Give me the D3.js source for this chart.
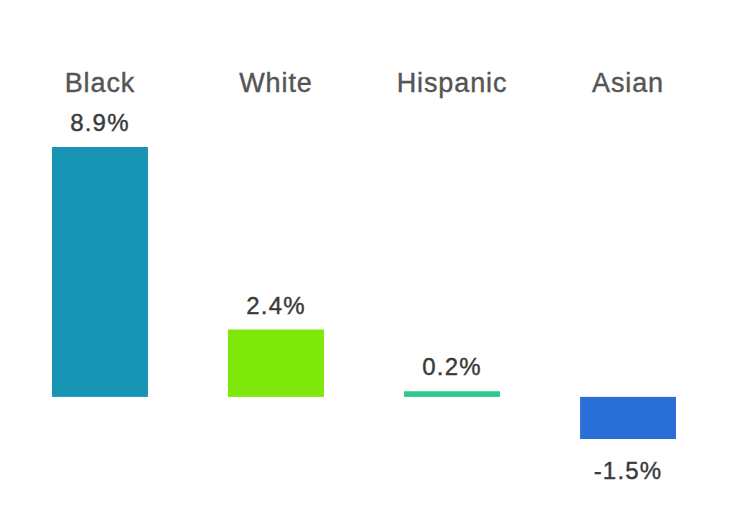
<!DOCTYPE html>
<html>
<head>
<meta charset="utf-8">
<script src="https://cdn.jsdelivr.net/npm/d3@7"></script>
<style>
  html, body { margin: 0; padding: 0; background: #ffffff; }
  svg { display: block; }
</style>
</head>
<body>
<svg id="chart" width="736" height="529"></svg>
<script>
// Change by group, in percent
const categories = ["Black", "White", "Hispanic", "Asian"];
const values = [8.9, 2.4, 0.2, -1.5];
const valueLabels = ["8.9%", "2.4%", "0.2%", "-1.5%"];
const colors = ["#1793b3", "#7ee80a", "#2ec98b", "#2a6fd8"];

const svg = d3.select("#chart");

const x = d3.scaleBand()
  .domain(categories)
  .range([52, 676])
  .paddingInner(0.455)
  .paddingOuter(0);

const y = d3.scaleLinear()
  .domain([-1.5, 8.9])
  .range([439, 147]);

const rows = categories.map((c, i) => ({ c, v: values[i], label: valueLabels[i], color: colors[i] }));

// Bars from the zero line
svg.append("g").selectAll("rect")
  .data(rows)
  .join("rect")
  .attr("x", d => x(d.c))
  .attr("width", x.bandwidth())
  .attr("y", d => y(Math.max(0, d.v)))
  .attr("height", d => Math.abs(y(d.v) - y(0)))
  .attr("fill", d => d.color);

// Category names across the top
svg.append("g").selectAll("text")
  .data(rows)
  .join("text")
  .attr("x", d => x(d.c) + x.bandwidth() / 2)
  .attr("y", 92)
  .attr("text-anchor", "middle")
  .attr("font-family", "Liberation Sans, Arial, sans-serif")
  .attr("font-size", 27)
  .attr("letter-spacing", 0.9)
  .attr("stroke", "#555555")
  .attr("stroke-width", 0.4)
  .attr("fill", "#555555")
  .text(d => d.c);

// Value labels above positive bars, below negative ones
svg.append("g").selectAll("text")
  .data(rows)
  .join("text")
  .attr("x", d => x(d.c) + x.bandwidth() / 2)
  .attr("y", d => d.v >= 0 ? y(d.v) - 16 : y(d.v) + 40)
  .attr("text-anchor", "middle")
  .attr("font-family", "Liberation Sans, Arial, sans-serif")
  .attr("font-size", 24)
  .attr("letter-spacing", 1.2)
  .attr("stroke", "#3a3a3a")
  .attr("stroke-width", 0.4)
  .attr("fill", "#3a3a3a")
  .text(d => d.label);
</script>
</body>
</html>
